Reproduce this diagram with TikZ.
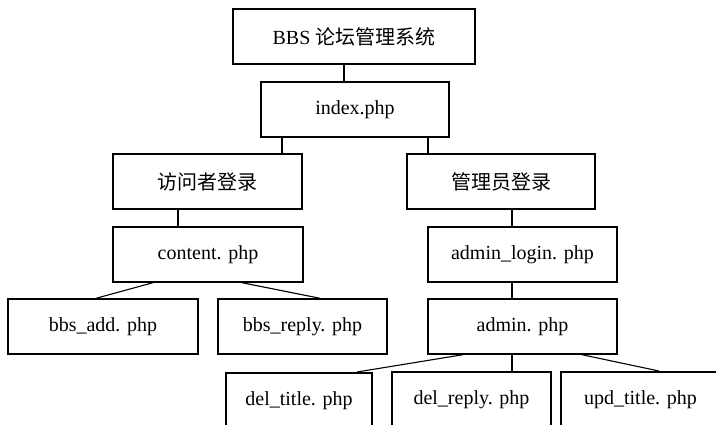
\documentclass[tikz,border=0pt]{standalone}
\usepackage{fontspec}
\setmainfont{Liberation Serif}
\newfontfamily\cjk{Noto Sans CJK SC}
\begin{document}
\begin{tikzpicture}[x=1pt,y=-1pt,
  box/.style={draw=black,line width=1.4pt,rectangle,minimum height=55pt,inner sep=0pt,
    font=\fontsize{20}{24}\selectfont},
  lowbox/.style={box,line width=2pt},
  link/.style={draw=black,line width=1.1pt}]
\useasboundingbox (0,0) rectangle (716,425);
\clip (0,0) rectangle (716,425);
\fill[white] (0,0) rectangle (716,425);
\node[box,minimum width=242pt] (top) at (354,36.5) {BBS {\cjk 论坛管理系统}};
\node[box,minimum width=188pt] (index) at (355,109.5) {index.php};
\node[box,minimum width=189pt] (visitor) at (207.5,181.5) {\cjk 访问者登录};
\node[box,minimum width=188pt] (manager) at (501,181.5) {\cjk 管理员登录};
\node[box,minimum width=190pt] (content) at (208,254.5) {content. php};
\node[box,minimum width=189pt] (adminlogin) at (522.5,254.5) {admin\_login. php};
\node[box,minimum width=190pt] (bbsadd) at (103,326.5) {bbs\_add. php};
\node[box,minimum width=169pt] (bbsreply) at (302.5,326.5) {bbs\_reply. php};
\node[box,minimum width=189pt] (admin) at (522.5,326.5) {admin. php};
\node[lowbox,minimum width=146pt] (deltitle) at (299,400.5) {del\_title. php};
\node[lowbox,minimum width=159pt] (delreply) at (471.5,399.5) {del\_reply. php};
\node[lowbox,minimum width=159pt] (updtitle) at (640.5,399.5) {upd\_title. php};
\draw[link] ([xshift=-10pt]top.south) -- ([xshift=-11pt]index.north);
\draw[link] ([xshift=-73pt]index.south) -- ([xshift=74.5pt]visitor.north);
\draw[link] ([xshift=73pt]index.south) -- ([xshift=-73pt]manager.north);
\draw[link] ([xshift=-29.5pt]visitor.south) -- ([xshift=-30pt]content.north);
\draw[link] ([xshift=11pt]manager.south) -- ([xshift=-10.5pt]adminlogin.north);
\draw[link] ([xshift=-55pt]content.south) -- ([xshift=-7pt]bbsadd.north);
\draw[link] ([xshift=34pt]content.south) -- ([xshift=17.5pt]bbsreply.north);
\draw[link] ([xshift=-10.5pt]adminlogin.south) -- ([xshift=-10.5pt]admin.north);
\draw[link] ([xshift=-59.5pt]admin.south) -- ([xshift=58pt]deltitle.north);
\draw[link] ([xshift=-10.5pt]admin.south) -- ([xshift=40.5pt]delreply.north);
\draw[link] ([xshift=59.5pt]admin.south) -- ([xshift=18.5pt]updtitle.north);
\end{tikzpicture}
\end{document}
